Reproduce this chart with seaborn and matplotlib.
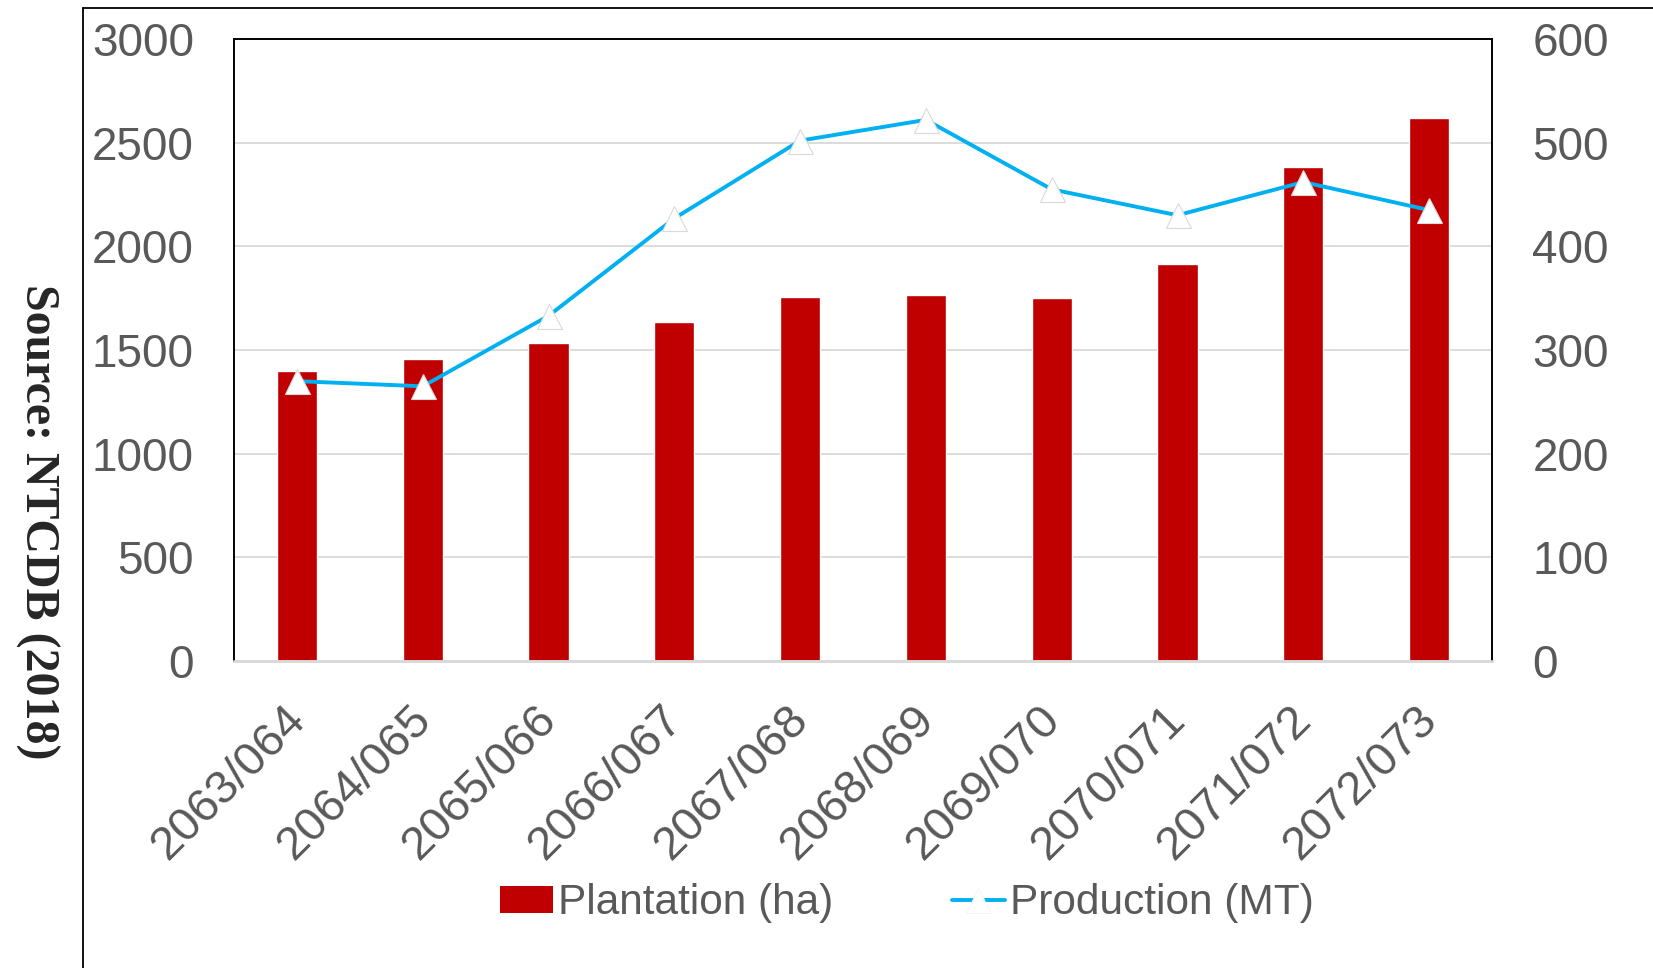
import numpy as np
import pandas as pd
import matplotlib
matplotlib.use('Agg')
import matplotlib.pyplot as plt
import matplotlib.transforms as mtransforms
import seaborn as sns
from matplotlib.patches import Patch
from matplotlib.lines import Line2D

# data
seasons = ['2063/064', '2064/065', '2065/066', '2066/067', '2067/068',
           '2068/069', '2069/070', '2070/071', '2071/072', '2072/073']
plantation_ha = [1400, 1455, 1535, 1635, 1755, 1765, 1750, 1915, 2385, 2620]
production_mt = [270, 265, 333, 427, 502, 522, 455, 430, 462, 435]

bar_color = '#C00000'
line_color = '#00B0F0'
text_color = '#595959'
grid_color = '#D9D9D9'

sns.set_style('white')
plt.rcParams['font.family'] = ['Liberation Sans', 'DejaVu Sans']

fig = plt.figure(figsize=(16.53, 9.68), dpi=100)
ax = fig.add_axes([0.1416, 0.3171, 0.761, 0.6426])

# bars on the left axis
sns.barplot(x=seasons, y=plantation_ha, color=bar_color, saturation=1,
            width=0.32, ax=ax)

# production line on the right axis
ax2 = ax.twinx()
sns.lineplot(x=np.arange(len(seasons)), y=production_mt, ax=ax2,
             color=line_color, lw=2.8, marker='^', markersize=18,
             markerfacecolor='white', markeredgecolor=grid_color,
             markeredgewidth=0.8)

ax.set_xlim(-0.5, len(seasons) - 0.5)
ax.set_ylim(0, 3000)
ax2.set_ylim(0, 600)
ax.set_yticks(range(0, 3001, 500))
ax2.set_yticks(range(0, 601, 100))
ax.yaxis.grid(True, color=grid_color, lw=1.3)
ax.xaxis.grid(False)
ax2.grid(False)
ax.set_axisbelow(True)
ax.set_xlabel('')
ax.set_ylabel('')
ax2.set_ylabel('')

ax.tick_params(axis='y', labelsize=33, colors=text_color, length=0, pad=29)
ax2.tick_params(axis='y', labelsize=33, colors=text_color, length=0, pad=29)
ax.tick_params(axis='x', labelsize=34, colors=text_color, length=0, pad=26)
ax.set_xticks(range(len(seasons)))
ax.set_xticklabels(seasons, rotation=45, ha='right', va='top',
                   rotation_mode='anchor')
shift = mtransforms.ScaledTranslation(-14 / 100, 0, fig.dpi_scale_trans)
for lab in ax.get_xticklabels():
    lab.set_transform(lab.get_transform() + shift)

for a in (ax, ax2):
    for s in ('left', 'top', 'right'):
        a.spines[s].set_visible(True)
        a.spines[s].set_color('black')
        a.spines[s].set_linewidth(1.2)
    a.spines['bottom'].set_color(grid_color)
    a.spines['bottom'].set_linewidth(1.8)

# source note on the left
fig.text(0.0227, 0.4613, 'Source: NTCDB (2018)', rotation=270,
         ha='center', va='center', fontsize=34.5, fontweight='bold',
         family=['Liberation Serif', 'DejaVu Serif'])

# outer frame lines
fig.add_artist(Line2D([0.0502, 0.0502], [0, 0.9917], transform=fig.transFigure,
                      color='black', lw=1.3))
fig.add_artist(Line2D([0.0502, 1], [0.9917, 0.9917], transform=fig.transFigure,
                      color='black', lw=1.3))

handles = [Patch(facecolor=bar_color, edgecolor='none'),
           Line2D([], [], color=line_color, lw=2.8, marker='^', markersize=18,
                  markerfacecolor='white', markeredgecolor='#F4F4F4',
                  markeredgewidth=0.6)]
labels = ['Plantation (ha)', 'Production (MT)']
fig.legend(handles, labels, loc='center', bbox_to_anchor=(0.5487, 0.067),
           ncol=2, frameon=False, handlelength=1.25, handleheight=0.6,
           handletextpad=0.12, columnspacing=2.8, labelcolor=text_color,
           prop={'family': ['Liberation Sans', 'DejaVu Sans'], 'size': 30.5})

fig.savefig('out.png', dpi=100)
